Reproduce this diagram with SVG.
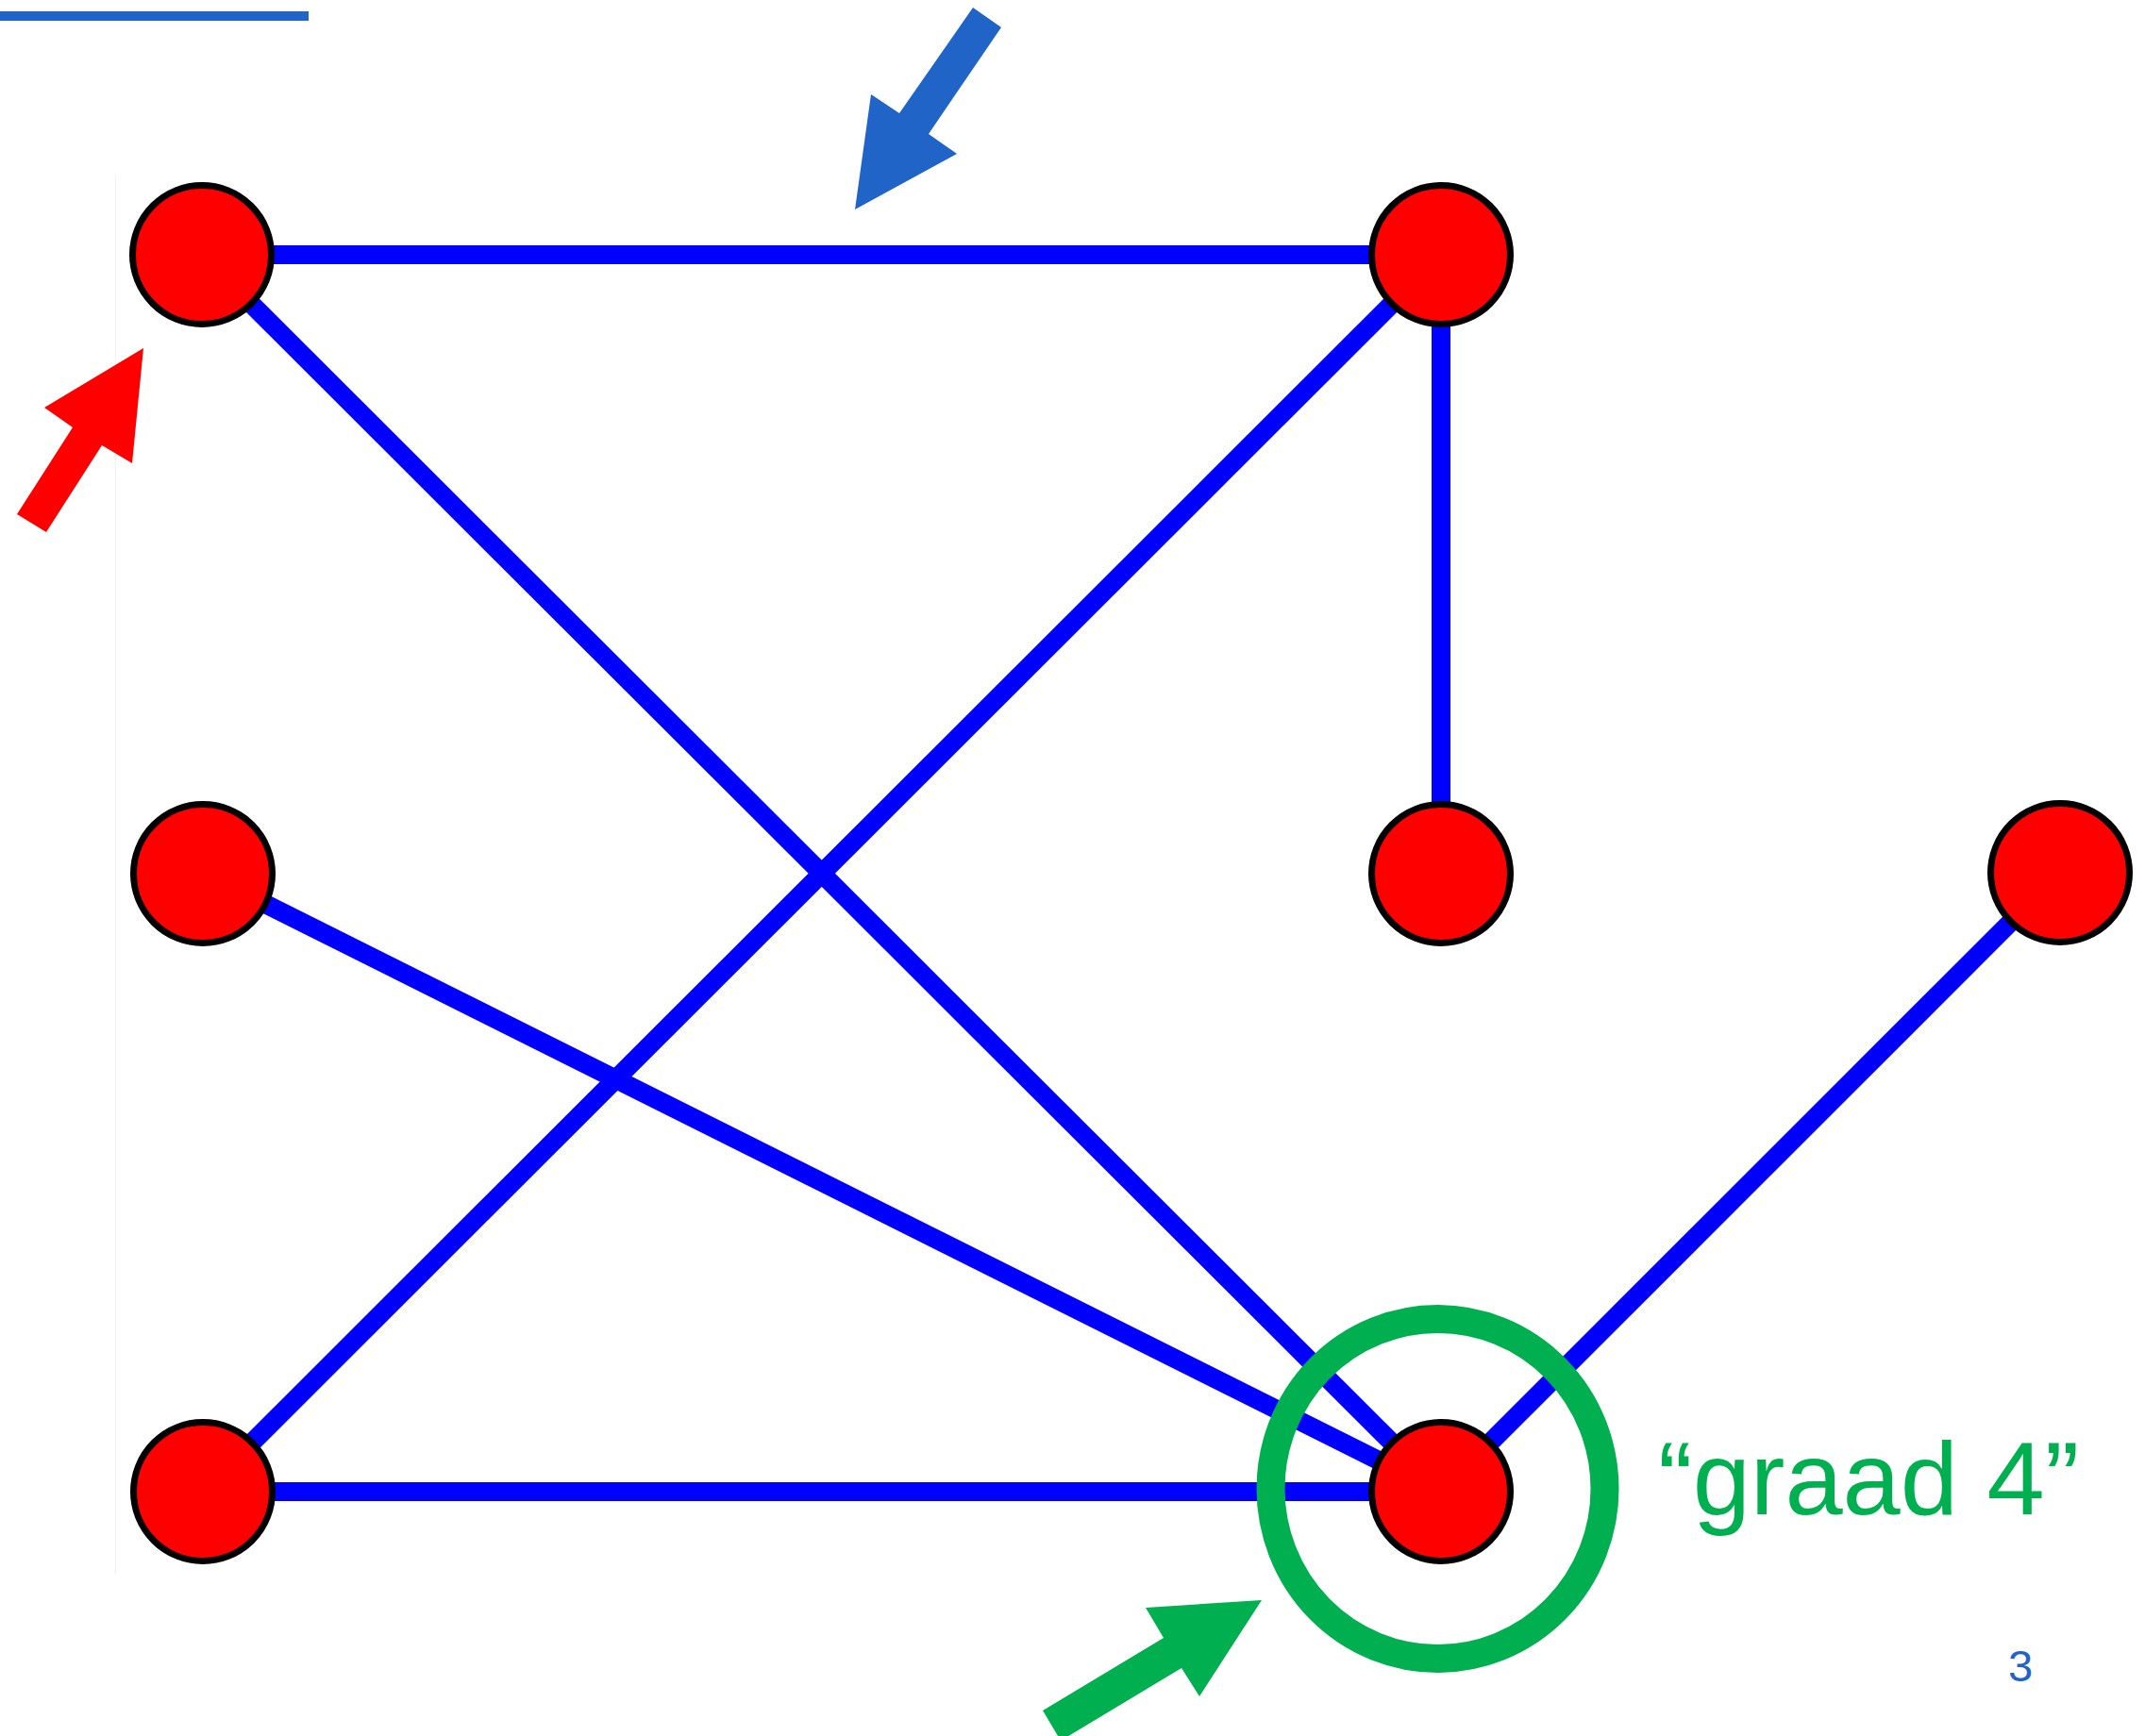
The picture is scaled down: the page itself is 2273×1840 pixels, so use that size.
<svg xmlns="http://www.w3.org/2000/svg" width="2273" height="1840" viewBox="0 0 2273 1840">
  <style>
    .edge { stroke: #0000FF; stroke-width: 20; fill: none; }
    .node { fill: #FF0000; stroke: #000000; stroke-width: 7; shape-rendering: geometricPrecision; }
    .label { font-family: "Liberation Sans", Arial, sans-serif; }
  </style>
  <rect x="0" y="0" width="2273" height="1840" fill="#FFFFFF"/>
  <rect x="0" y="12" width="327" height="10" fill="#2064C8"/>
  <line x1="122.5" y1="186" x2="122.5" y2="1668" stroke="#F2F2F2" stroke-width="1"/>

  <g id="connectors">
    <line class="edge" x1="214" y1="270" x2="1527" y2="270"/>
    <line class="edge" x1="214" y1="270" x2="1527" y2="1581"/>
    <line class="edge" x1="1527" y1="270" x2="215" y2="1581"/>
    <line class="edge" x1="1527" y1="270" x2="1527" y2="925"/>
    <line class="edge" x1="215" y1="925" x2="1527" y2="1581"/>
    <line class="edge" x1="215" y1="1581" x2="1527" y2="1581"/>
    <line class="edge" x1="2183" y1="925" x2="1527" y2="1581"/>
  </g>

  <g id="node-top-left"><circle class="node" cx="214" cy="270" r="73.5"/></g>
  <g id="node-top-right"><circle class="node" cx="1527" cy="270" r="73.5"/></g>
  <g id="node-mid-left"><circle class="node" cx="215" cy="926" r="73.5"/></g>
  <g id="node-mid-right"><circle class="node" cx="1527" cy="926" r="73.5"/></g>
  <g id="node-right"><circle class="node" cx="2183" cy="925" r="73.5"/></g>
  <g id="node-bottom-left"><circle class="node" cx="215" cy="1581" r="73.5"/></g>
  <g id="node-bottom-right"><circle class="node" cx="1527" cy="1581" r="73.5"/></g>

  <g id="highlight">
    <ellipse cx="1523.5" cy="1578" rx="177" ry="180" fill="none" stroke="#00B050" stroke-width="30" shape-rendering="geometricPrecision"/>
  </g>

  <g id="arrow-red">
    <polygon points="152,369 140,491 108,472 49,564 18,545 77,453 47,432" fill="#FF0000"/>
  </g>
  <g id="arrow-blue">
    <polygon points="1031,8 1061,29 984,142 1014,163 906,222 923,100 953,120" fill="#2064C8"/>
  </g>
  <g id="arrow-green">
    <polygon points="1337,1696 1271,1798 1252,1768 1124,1845 1105,1813 1233,1736 1214,1704" fill="#00B050"/>
  </g>

  <g id="label-graad">
    <text class="label" x="1757" y="1605" font-size="110" fill="#00B050">“graad 4”</text>
  </g>
  <g id="page-number">
    <text class="label" x="2141" y="1782" font-size="47" fill="#2064C8" text-anchor="middle">3</text>
  </g>
</svg>
